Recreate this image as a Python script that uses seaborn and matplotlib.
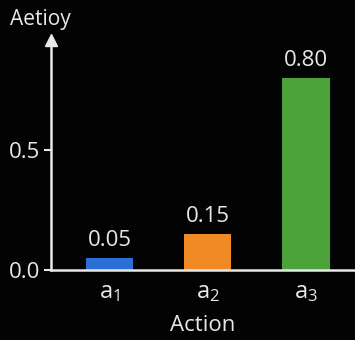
import matplotlib
matplotlib.use("Agg")
import matplotlib.pyplot as plt
import seaborn as sns
import pandas as pd

# Action probabilities
actions = ["a1", "a2", "a3"]
tick_labels = [r"a$_1$", r"a$_2$", r"a$_3$"]
probs = [0.05, 0.15, 0.80]
value_labels = ["0.05", "0.15", "0.80"]
colors = ["#2c6fd4", "#ef8a25", "#4ba339"]

sns.set_theme(style="dark")
plt.rcParams["font.family"] = ["Open Sans", "DejaVu Sans"]
plt.rcParams["mathtext.default"] = "regular"

fg = "#e8e8e8"
bg = "#030303"

fig = plt.figure(figsize=(3.55, 3.40), dpi=100, facecolor=bg)
ax = fig.add_axes([51 / 355, 70 / 340, 304 / 355, 230 / 340])
ax.set_facecolor(bg)

df = pd.DataFrame({"action": actions, "prob": probs})
sns.barplot(data=df, x="action", y="prob", hue="action", palette=colors,
            width=0.48, legend=False, ax=ax, saturation=1,
            edgecolor="none", linewidth=0)

ax.set_xlim(-0.6, 2.5)
ax.set_ylim(0, 0.96)

for i, (v, t) in enumerate(zip(probs, value_labels)):
    ax.annotate(t, (i, v), xytext=(0, 5), textcoords="offset points",
                ha="center", va="bottom", color=fg, fontsize=16)

ax.set_yticks([0.0, 0.5])
ax.set_yticklabels(["0.0", "0.5"])
ax.set_xticks(range(len(actions)))
ax.set_xticklabels(tick_labels)
ax.tick_params(axis="y", colors=fg, labelsize=16, length=5, width=1.5,
               direction="out", left=True, pad=3)
ax.tick_params(axis="x", colors=fg, labelsize=17, length=0, pad=7)
ax.grid(False)

for side in ["top", "right"]:
    ax.spines[side].set_visible(False)
for side in ["left", "bottom"]:
    ax.spines[side].set_visible(True)
    ax.spines[side].set_color(fg)
    ax.spines[side].set_linewidth(1.8)

# arrow head at top of the y axis
ax.plot([0], [1.0], marker="^", markersize=9, color=fg, transform=ax.transAxes,
        clip_on=False)

ax.set_xlabel("Action", color=fg, fontsize=16, labelpad=8)
ax.set_ylabel("")
fig.text(40 / 355, 1 - 19 / 340, "Aetioy", color=fg, fontsize=15,
         ha="center", va="center")

fig.savefig("out.png", dpi=100, facecolor=bg)
